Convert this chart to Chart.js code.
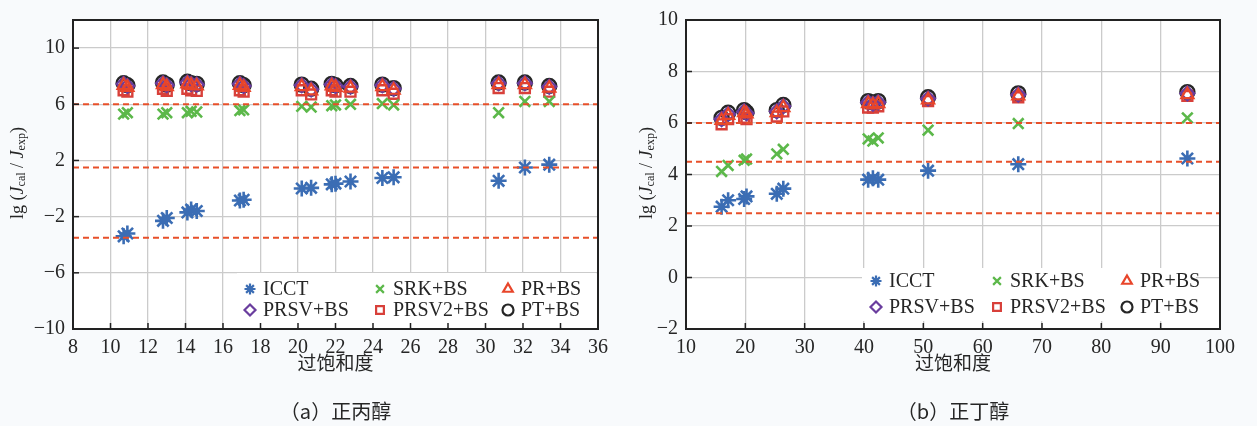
<!DOCTYPE html>
<html>
<head>
<meta charset="utf-8">
<script src="https://cdn.jsdelivr.net/npm/chart.js@4/dist/chart.umd.min.js"></script>
<style>
    html, body { margin: 0; padding: 0; background: #f8fafc; }
    #wrap { position: relative; width: 1257px; height: 426px; }
    .box { position: absolute; top: 0; height: 426px; }
</style>
</head>
<body>
<div id="wrap">
    <div class="box" style="left:0;width:620px"><canvas id="chartA"></canvas></div>
    <div class="box" style="left:620px;width:637px"><canvas id="chartB"></canvas></div>
</div>
<script>
// ===== (a) 正丙醇 =====
const xA      = [10.7, 10.9, 12.8, 13.0, 14.1, 14.3, 14.6, 16.9, 17.1, 20.2, 20.7, 21.8, 22.0, 22.8, 24.5, 25.1, 30.7, 32.1, 33.4];
const icctA   = [-3.4, -3.2, -2.3, -2.1, -1.7, -1.5, -1.6, -0.85, -0.8, 0.0, 0.05, 0.3, 0.35, 0.5, 0.75, 0.8, 0.55, 1.5, 1.7];
const srkA    = [5.3, 5.4, 5.3, 5.4, 5.4, 5.5, 5.45, 5.55, 5.6, 5.85, 5.8, 5.9, 5.95, 6.0, 6.05, 5.95, 5.4, 6.2, 6.2];
const prA     = [7.35, 7.2, 7.4, 7.25, 7.45, 7.35, 7.3, 7.35, 7.2, 7.25, 6.95, 7.3, 7.2, 7.15, 7.25, 7.0, 7.4, 7.4, 7.15];
const prsvA   = [7.45, 7.3, 7.5, 7.35, 7.55, 7.45, 7.4, 7.45, 7.3, 7.35, 7.05, 7.4, 7.3, 7.25, 7.35, 7.1, 7.5, 7.5, 7.25];
const prsv2A  = [7.0, 6.9, 7.1, 6.95, 7.1, 7.0, 6.95, 7.0, 6.9, 7.0, 6.7, 7.0, 6.9, 6.9, 7.0, 6.75, 7.15, 7.15, 6.9];
const ptA     = [7.5, 7.35, 7.55, 7.4, 7.6, 7.5, 7.45, 7.5, 7.35, 7.4, 7.1, 7.45, 7.35, 7.3, 7.4, 7.15, 7.55, 7.55, 7.3];
const refA    = [6, 1.5, -3.5];
const xTicksA = [8, 10, 12, 14, 16, 18, 20, 22, 24, 26, 28, 30, 32, 34, 36];
const yTicksA = [-10, -6, -2, 2, 6, 10];

// ===== (b) 正丁醇 =====
const xB      = [16.0, 17.1, 19.8, 20.2, 25.3, 26.4, 40.7, 41.5, 42.4, 50.8, 66.0, 94.5];
const icctB   = [2.75, 3.0, 3.05, 3.15, 3.25, 3.45, 3.8, 3.85, 3.8, 4.15, 4.4, 4.62];
const srkB    = [4.12, 4.35, 4.55, 4.6, 4.8, 4.98, 5.38, 5.3, 5.42, 5.72, 5.98, 6.2];
const prB     = [6.1, 6.3, 6.4, 6.35, 6.4, 6.6, 6.75, 6.7, 6.75, 6.9, 7.05, 7.1];
const prsvB   = [6.15, 6.35, 6.45, 6.38, 6.45, 6.65, 6.8, 6.75, 6.8, 6.95, 7.1, 7.15];
const prsv2B  = [5.95, 6.15, 6.2, 6.15, 6.25, 6.45, 6.6, 6.6, 6.65, 6.85, 7.0, 7.05];
const ptB     = [6.2, 6.4, 6.5, 6.42, 6.5, 6.7, 6.85, 6.8, 6.85, 7.0, 7.15, 7.2];
const refB    = [6, 4.5, 2.5];
const xTicksB = [10, 20, 30, 40, 50, 60, 70, 80, 90, 100];
const yTicksB = [-2, 0, 2, 4, 6, 8, 10];

const seriesNames = ['ICCT', 'SRK+BS', 'PR+BS', 'PRSV+BS', 'PRSV2+BS', 'PT+BS'];

const SERIF = 'Liberation Serif';
const CJK = '"Noto Sans CJK SC", sans-serif';
const TXT = '#262626';

const styles = [
    { pointStyle: 'star',     color: '#3b6db4', radius: 8, bw: 2.6 },
    { pointStyle: 'crossRot', color: '#5cb84a', radius: 7.5, bw: 2.6 },
    { pointStyle: 'triangle', color: '#e8452a', radius: 7, bw: 2.2 },
    { pointStyle: 'rectRot',  color: '#6a3d9e', radius: 7, bw: 2.2 },
    { pointStyle: 'rect',     color: '#d8403a', radius: 7, bw: 2.4 },
    { pointStyle: 'circle',   color: '#262626', radius: 7, bw: 2.4 }
];

function pts(xs, ys) { return xs.map((x, i) => ({ x, y: ys[i] })); }

function drawYTitle(ctx, x, y) {
    const parts = [
        { t: 'lg (', f: '18px ' + SERIF, dy: 0 },
        { t: 'J', f: 'italic 18px ' + SERIF, dy: 0 },
        { t: 'cal', f: '12px ' + SERIF, dy: 4 },
        { t: ' / ', f: '18px ' + SERIF, dy: 0 },
        { t: 'J', f: 'italic 18px ' + SERIF, dy: 0 },
        { t: 'exp', f: '12px ' + SERIF, dy: 4 },
        { t: ')', f: '18px ' + SERIF, dy: 0 }
    ];
    ctx.save();
    ctx.translate(x, y);
    ctx.rotate(-Math.PI / 2);
    ctx.fillStyle = TXT;
    ctx.textBaseline = 'middle';
    ctx.textAlign = 'left';
    let total = 0;
    parts.forEach(p => { ctx.font = p.f; p.w = ctx.measureText(p.t).width; total += p.w; });
    let cx = -total / 2;
    parts.forEach(p => { ctx.font = p.f; ctx.fillText(p.t, cx, p.dy); cx += p.w; });
    ctx.restore();
}

function makeChart(id, cfg) {
    const datasets = cfg.series.map((ys, i) => ({
        label: seriesNames[i],
        data: pts(cfg.xs, ys),
        pointStyle: styles[i].pointStyle,
        pointRadius: styles[i].radius,
        pointBorderWidth: styles[i].bw,
        borderColor: styles[i].color,
        backgroundColor: 'rgba(0,0,0,0)',
        showLine: false
    }));

    const decor = {
        id: 'decor',
        beforeDraw(chart) {
            const { ctx, chartArea: a } = chart;
            ctx.save();
            ctx.fillStyle = '#ffffff';
            ctx.fillRect(a.left, a.top, a.right - a.left, a.bottom - a.top);
            ctx.restore();
        },
        afterDatasetsDraw(chart) {
            const { ctx, chartArea: a, scales } = chart;
            // dashed reference lines
            ctx.save();
            ctx.strokeStyle = '#e8502a';
            ctx.lineWidth = 2;
            ctx.setLineDash([6, 4]);
            cfg.refs.forEach(v => {
                const y = scales.y.getPixelForValue(v);
                ctx.beginPath();
                ctx.moveTo(a.left, y);
                ctx.lineTo(a.right, y);
                ctx.stroke();
            });
            ctx.restore();

            // legend box
            const L = cfg.legend;
            ctx.save();
            ctx.fillStyle = '#ffffff';
            ctx.fillRect(L.box[0], L.box[1], L.box[2] - L.box[0], L.box[3] - L.box[1]);
            ctx.font = '20px ' + SERIF;
            ctx.textBaseline = 'middle';
            ctx.textAlign = 'left';
            chart.data.datasets.forEach((ds, i) => {
                const mx = L.cols[i % 3], my = L.rows[Math.floor(i / 3)];
                ctx.strokeStyle = ds.borderColor;
                ctx.fillStyle = 'rgba(0,0,0,0)';
                ctx.lineWidth = 2.2;
                Chart.helpers.drawPoint(ctx, {
                    pointStyle: ds.pointStyle,
                    radius: 5.5,
                    rotation: 0,
                    borderWidth: 2.2
                }, mx, my);
                ctx.fillStyle = TXT;
                ctx.fillText(ds.label, mx + 13, my + 1);
            });
            ctx.restore();
        },
        afterDraw(chart) {
            const { ctx, chartArea: a, scales } = chart;
            ctx.save();
            // inward tick marks
            ctx.strokeStyle = '#222';
            ctx.lineWidth = 1.5;
            scales.x.ticks.forEach(t => {
                const x = scales.x.getPixelForValue(t.value);
                ctx.beginPath(); ctx.moveTo(x, a.bottom); ctx.lineTo(x, a.bottom - 6); ctx.stroke();
            });
            scales.y.ticks.forEach(t => {
                const y = scales.y.getPixelForValue(t.value);
                ctx.beginPath(); ctx.moveTo(a.left, y); ctx.lineTo(a.left + 6, y); ctx.stroke();
            });
            // frame
            ctx.lineWidth = 2;
            ctx.strokeRect(a.left, a.top, a.right - a.left, a.bottom - a.top);

            // titles
            const mid = (a.left + a.right) / 2;
            ctx.fillStyle = TXT;
            ctx.textAlign = 'center';
            ctx.textBaseline = 'middle';
            ctx.font = '19px ' + CJK;
            ctx.fillText('过饱和度', mid, 363);
            ctx.font = '20px ' + CJK;
            ctx.fillText(cfg.caption, mid, 411);
            ctx.restore();
            drawYTitle(ctx, cfg.yTitleX, 173);
        }
    };

    return new Chart(document.getElementById(id), {
        type: 'scatter',
        data: { datasets },
        options: {
            responsive: true,
            maintainAspectRatio: false,
            animation: false,
            events: [],
            layout: { padding: { left: 0, right: cfg.padRight, top: 10, bottom: 0 } },
            scales: {
                x: {
                    type: 'linear',
                    min: cfg.xTicks[0], max: cfg.xTicks[cfg.xTicks.length - 1],
                    afterBuildTicks: s => { s.ticks = cfg.xTicks.map(v => ({ value: v })); },
                    afterFit: s => { s.height = 97; },
                    grid: { color: '#cbcbcb', lineWidth: 1.3, drawTicks: false },
                    border: { display: false },
                    ticks: { color: TXT, padding: 7, font: { family: SERIF, size: 20 }, maxRotation: 0, autoSkip: false }
                },
                y: {
                    type: 'linear',
                    min: cfg.yMin, max: cfg.yMax,
                    afterBuildTicks: s => { s.ticks = cfg.yTicks.map(v => ({ value: v })); },
                    afterFit: s => { s.width = cfg.yWidth; },
                    grid: { color: '#cbcbcb', lineWidth: 1.3, drawTicks: false },
                    border: { display: false },
                    ticks: {
                        color: TXT, padding: 8, font: { family: SERIF, size: 20 },
                        callback: v => String(v).replace('-', '\u2212')
                    }
                }
            },
            plugins: { legend: { display: false }, tooltip: { enabled: false } }
        },
        plugins: [decor]
    });
}

makeChart('chartA', {
    xs: xA,
    series: [icctA, srkA, prA, prsvA, prsv2A, ptA],
    refs: refA,
    xTicks: xTicksA, yTicks: yTicksA,
    yMin: -10, yMax: 12,
    yWidth: 73, padRight: 22,
    yTitleX: 18,
    caption: '（a）正丙醇',
    legend: { box: [237, 273, 596, 327], cols: [250, 380, 508], rows: [289, 310] }
});

makeChart('chartB', {
    xs: xB,
    series: [icctB, srkB, prB, prsvB, prsv2B, ptB],
    refs: refB,
    xTicks: xTicksB, yTicks: yTicksB,
    yMin: -2, yMax: 10,
    yWidth: 66, padRight: 37,
    yTitleX: 27,
    caption: '（b）正丁醇',
    legend: { box: [242, 268, 576, 321], cols: [256, 377, 507], rows: [281, 307] }
});
</script>
</body>
</html>
